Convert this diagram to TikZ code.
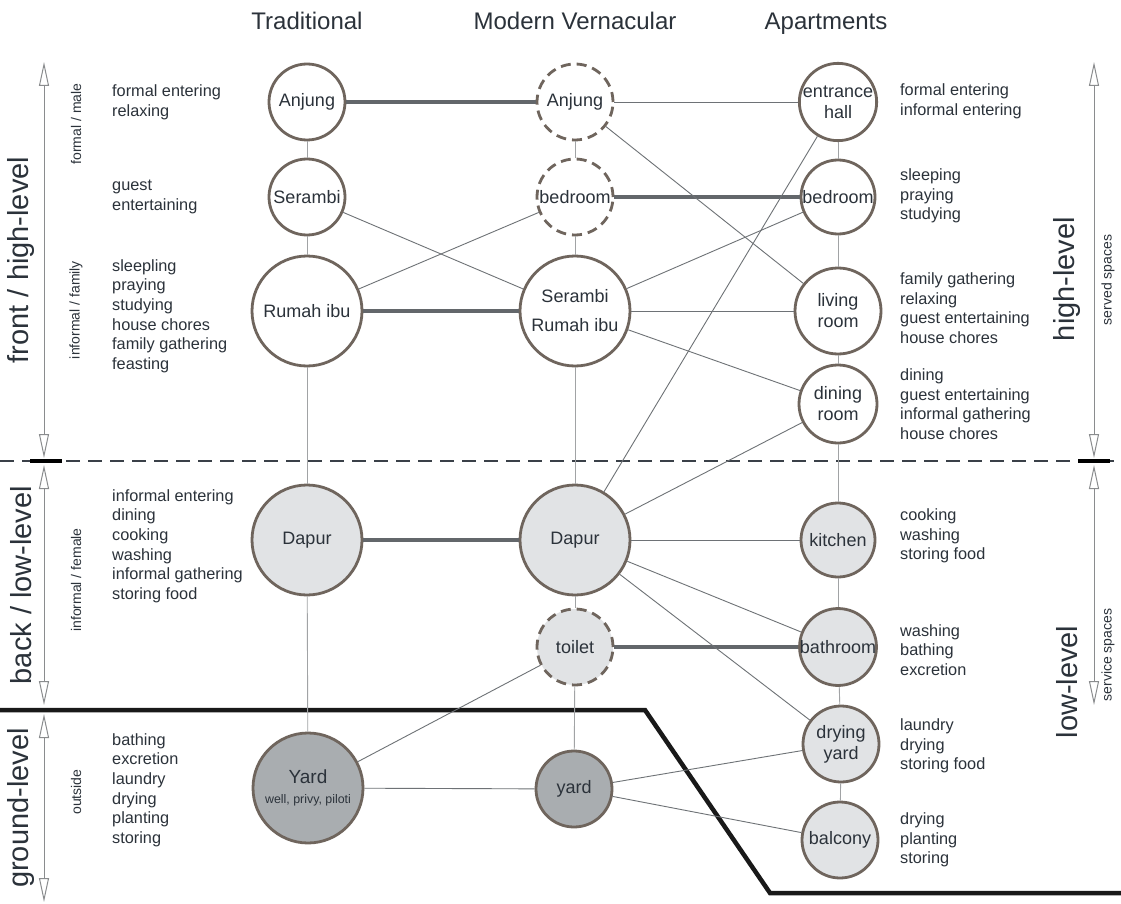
\documentclass[tikz,border=0pt]{standalone}
\usepackage{fontspec}
\setmainfont{Liberation Sans}
\usetikzlibrary{arrows.meta}
\definecolor{ring}{HTML}{6F655D}
\definecolor{txt}{HTML}{2B323A}
\definecolor{lightf}{HTML}{E1E3E5}
\definecolor{darkf}{HTML}{A9ADB0}
\definecolor{thickc}{HTML}{63676B}
\definecolor{thinc}{HTML}{6E7276}
\definecolor{axisc}{HTML}{8A8C8E}
\definecolor{sepc}{HTML}{3A4048}
\tikzset{
  room/.style={circle, draw=ring, line width=2.8pt, fill=white, text=txt,
    font=\fontsize{18}{21}\selectfont, align=center, inner sep=0pt},
  dashroom/.style={room, dash pattern=on 10pt off 6pt},
  svc/.style={fill=lightf},
  grd/.style={fill=darkf},
  thinlink/.style={draw=thinc, line width=0.9pt},
  vlink/.style={draw=axisc!80, line width=0.9pt},
  thicklink/.style={draw=thickc, line width=4.5pt},
  acts/.style={anchor=west, align=left, inner sep=0pt, text=txt, font=\fontsize{16.3}{19.6}\selectfont},
  header/.style={anchor=base, text=txt, font=\fontsize{24}{27}\selectfont},
  biglab/.style={rotate=90, text=txt, font=\fontsize{29}{32}\selectfont},
  smalllab/.style={rotate=90, text=txt, font=\fontsize{14}{17}\selectfont},
  axis/.style={draw=axisc, line width=1pt, {Triangle[open, length=24pt, width=10pt]}-{Triangle[open, length=24pt, width=10pt]}}
}
\begin{document}
\begin{tikzpicture}[x=1pt, y=-1pt]
\useasboundingbox (0,0) rectangle (1121,904);
\fill[white] (0,0) rectangle (1121,904);

% headers
\node[header] (h1) at (307,30) {Traditional};
\node[header] (h2) at (575,30) {Modern Vernacular};
\node[header] (h3) at (826,30) {Apartments};

% separators
\draw[sepc, line width=2.6pt, dash pattern=on 14pt off 8pt] (0,461) -- (1121,461);
\draw[black, line width=3.2pt] (30,461) -- (62,461);
\draw[black, line width=3.2pt] (1078,461) -- (1110,461);
\draw[black!90, line width=4.5pt] (0,710) -- (645,710) -- (770,893) -- (1121,893);

% axes left
\coordinate (la1) at (44,62); \coordinate (lb1) at (44,458);
\coordinate (la2) at (44,465); \coordinate (lb2) at (44,705);
\coordinate (la3) at (44,714); \coordinate (lb3) at (44,902);
\draw[axis] (la1) -- (lb1);
\draw[axis] (la2) -- (lb2);
\draw[axis] (la3) -- (lb3);
\node[biglab] (L1) at (21,260) {front / high-level};
\node[smalllab] (l1a) at (76,124) {formal / male};
\node[smalllab] (l1b) at (76,310) {informal / family};
\node[biglab] (L2) at (21,585) {back / low-level};
\node[smalllab] (l2a) at (76,580) {informal / female};
\node[biglab] (L3) at (21,808) {ground-level};
\node[smalllab] (l3a) at (76,792) {outside};

% axes right
\coordinate (ra1) at (1094,62); \coordinate (rb1) at (1094,458);
\coordinate (ra2) at (1094,465); \coordinate (rb2) at (1094,705);
\draw[axis] (ra1) -- (rb1);
\draw[axis] (ra2) -- (rb2);
\node[biglab] (R1) at (1067,279) {high-level};
\node[smalllab] (r1a) at (1108,280) {served spaces};
\node[biglab] (R2) at (1067,682) {low-level};
\node[smalllab] (r2a) at (1108,655) {service spaces};

% Traditional
\node[room, minimum size=76pt] (tA) at (307,102) {Anjung};
\node[room, minimum size=76pt] (tS) at (307,197) {Serambi};
\node[room, minimum size=110pt] (tR) at (307,311) {Rumah ibu};
\node[room, svc, minimum size=110pt] (tD) at (307,540) {Dapur};
\node[room, grd, minimum size=110pt] (tY) at (308,788) {\fontsize{19}{22}\selectfont Yard\\[-1pt]{\fontsize{12.4}{14}\selectfont well, privy, piloti}};

% Modern vernacular
\node[dashroom, minimum size=76pt] (mA) at (575,102) {Anjung};
\node[dashroom, minimum size=76pt] (mB) at (575,197) {bedroom};
\node[room, minimum size=110pt] (mS) at (575,311) {Serambi\\[8pt]Rumah ibu};
\node[room, svc, minimum size=110pt] (mD) at (575,540) {Dapur};
\node[dashroom, svc, minimum size=76pt] (mT) at (575,647) {toilet};
\node[room, grd, minimum size=76pt] (mY) at (574,789) {yard};

% Apartments
\node[room, minimum size=74pt] (aE) at (838,102) {entrance\\hall};
\node[room, minimum size=74pt] (aB) at (838,197) {bedroom};
\node[room, minimum size=86pt] (aL) at (838,311) {living\\room};
\node[room, minimum size=78pt] (aD) at (838,404) {dining\\room};
\node[room, svc, minimum size=74pt] (aK) at (838,540) {kitchen};
\node[room, svc, minimum size=74pt] (aT) at (838,647) {bathroom};
\node[room, svc, minimum size=76pt] (aY) at (841,744) {drying\\yard};
\node[room, svc, minimum size=76pt] (aC) at (840,840) {balcony};

% activity texts - traditional
\node[acts] (t1) at (112,102) {formal entering\\relaxing};
\node[acts] (t2) at (112,197) {guest\\entertaining};
\node[acts] (t3) at (112,316) {sleepling\\praying\\studying\\house chores\\family gathering\\feasting};
\node[acts] (t4) at (112,546) {informal entering\\dining\\cooking\\washing\\informal gathering\\storing food};
\node[acts] (t5) at (112,790) {bathing\\excretion\\laundry\\drying\\planting\\storing};

% activity texts - apartments
\node[acts] (a1) at (900,101) {formal entering\\informal entering};
\node[acts] (a2) at (900,196) {sleeping\\praying\\studying};
\node[acts] (a3) at (900,308) {family gathering\\relaxing\\guest entertaining\\house chores};
\node[acts] (a4) at (900,404) {dining\\guest entertaining\\informal gathering\\house chores};
\node[acts] (a5) at (900,536) {cooking\\washing\\storing food};
\node[acts] (a6) at (900,650) {washing\\bathing\\excretion};
\node[acts] (a7) at (900,746) {laundry\\drying\\storing food};
\node[acts] (a8) at (900,840) {drying\\planting\\storing};

% vertical links
\draw[vlink] (tA) -- (tS);
\draw[vlink] (tS) -- (tR);
\draw[vlink] (tR) -- (tD);
\draw[vlink] (tD) -- (tY);
\draw[vlink] (mA) -- (mB);
\draw[vlink] (mB) -- (mS);
\draw[vlink] (mS) -- (mD);
\draw[vlink] (mD) -- (mT);
\draw[vlink] (mT) -- (mY);
\draw[vlink] (aE) -- (aB);
\draw[vlink] (aB) -- (aL);
\draw[vlink] (aL) -- (aD);
\draw[vlink] (aD) -- (aK);
\draw[vlink] (aK) -- (aT);
\draw[vlink] (aT) -- (aY);
\draw[vlink] (aY) -- (aC);

% thick links
\draw[thicklink] (tA) -- (mA);
\draw[thicklink] (mB) -- (aB);
\draw[thicklink] (tR) -- (mS);
\draw[thicklink] (tD) -- (mD);
\draw[thicklink] (mT) -- (aT);

% thin links
\draw[thinlink] (tS) -- (mS);
\draw[thinlink] (tR) -- (mB);
\draw[thinlink] (mA) -- (aE);
\draw[thinlink] (mA) -- (aL);
\draw[thinlink] (mS) -- (aB);
\draw[thinlink] (mS) -- (aL);
\draw[thinlink] (mS) -- (aD);
\draw[thinlink] (mD) -- (aE);
\draw[thinlink] (mD) -- (aD);
\draw[thinlink] (mD) -- (aK);
\draw[thinlink] (mD) -- (aT);
\draw[thinlink] (mD) -- (aY);
\draw[thinlink] (tY) -- (mT);
\draw[thinlink] (tY) -- (mY);
\draw[thinlink] (mY) -- (aY);
\draw[thinlink] (mY) -- (aC);
\end{tikzpicture}
\end{document}
